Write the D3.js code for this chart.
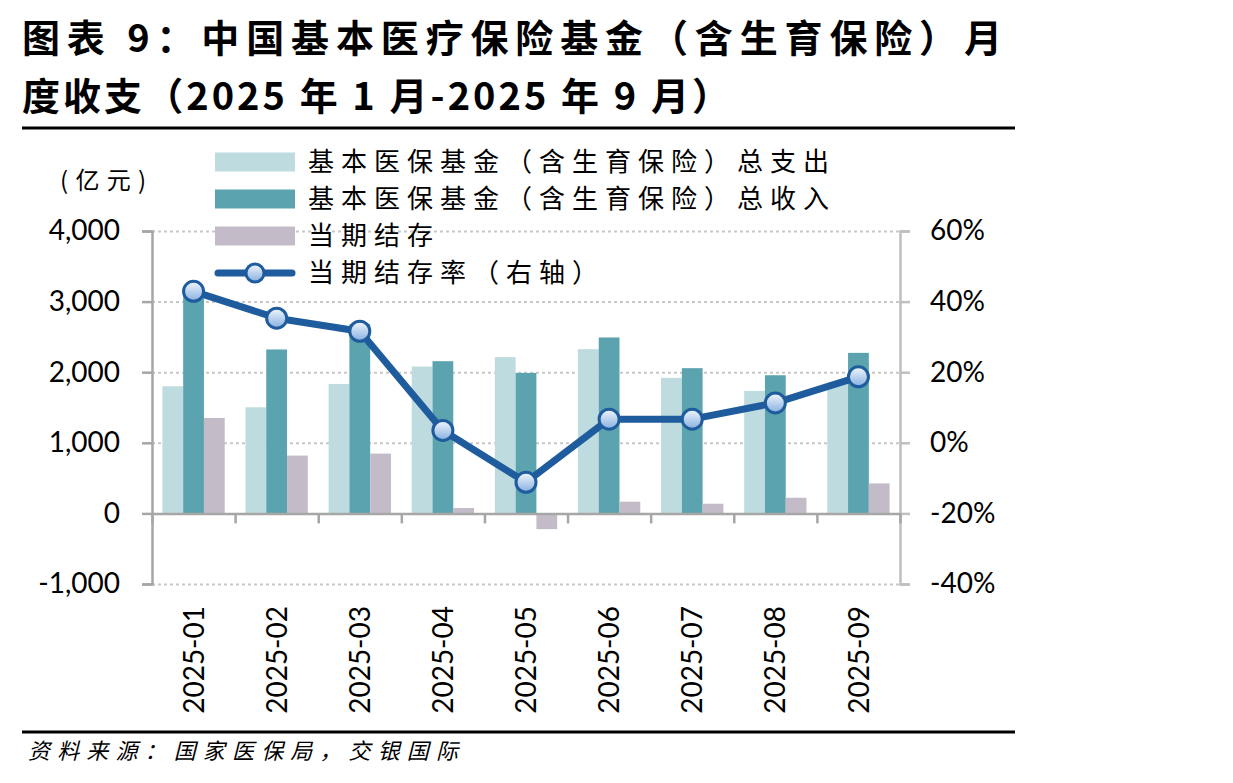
<!DOCTYPE html>
<html>
<head>
<meta charset="utf-8">
<script src="https://cdn.jsdelivr.net/npm/d3@7"></script>
<style>
    body { margin: 0; background: #fff; }
    .chartdiv { width: 1233px; height: 783px; }
    text { fill: #000; }
</style>
</head>
<body>
<div class="chartdiv"></div>
<script>
// data
let months = ['2025-01', '2025-02', '2025-03', '2025-04', '2025-05', '2025-06', '2025-07', '2025-08', '2025-09']
let expense = [1801, 1503, 1834, 2080, 2213, 2326, 1920, 1735, 1849]   // 总支出 (亿元)
let income = [3153, 2322, 2681, 2156, 1990, 2492, 2057, 1957, 2274]    // 总收入 (亿元)
let balance = [1352, 819, 847, 76, -223, 166, 137, 222, 425]           // 当期结存 (亿元)
let rate = [0.429, 0.353, 0.316, 0.035, -0.112, 0.067, 0.067, 0.113, 0.187] // 当期结存率 (右轴)

let leftTicks = [-1000, 0, 1000, 2000, 3000, 4000]
let rightTicks = [-0.4, -0.2, 0, 0.2, 0.4, 0.6]
let seriesNames = ['基本医保基金（含生育保险）总支出', '基本医保基金（含生育保险）总收入', '当期结存', '当期结存率（右轴）']

let colors = ['#BEDBDF', '#5BA3AE', '#C3BCC8']
let lineColor = '#1F5C9E'
let cjk = '"Noto Sans CJK SC", "Noto Sans", sans-serif'
let latin = 'Lato, "Open Sans", sans-serif'

// plot box (note: "top" is reserved on window, so use plot* names)
var W = 1233, H = 783
var plotL = 152, plotR = 900, plotT = 231, plotB = 584

// plain hyphen for negatives, like the original
var loc = d3.formatLocale({ decimal: '.', thousands: ',', grouping: [3], currency: ['', ''], minus: '-' })

var svg = d3.select('.chartdiv').append('svg')
    .attr('width', W)
    .attr('height', H)

// marker gradient
var defs = svg.append('defs')
var grad = defs.append('linearGradient')
    .attr('id', 'markergrad')
    .attr('x1', 0).attr('y1', 0).attr('x2', 0).attr('y2', 1)
grad.append('stop').attr('offset', '0%').attr('stop-color', '#F2F7FD')
grad.append('stop').attr('offset', '100%').attr('stop-color', '#86AFE0')

////// title and rules //////
svg.append('text')
    .attr('x', 22).attr('y', 52)
    .attr('textLength', 980).attr('lengthAdjust', 'spacing')
    .style('font-family', cjk).style('font-weight', 700).style('font-size', '38px')
    .text('图表 9：中国基本医疗保险基金（含生育保险）月')
svg.append('text')
    .attr('x', 22).attr('y', 110)
    .attr('textLength', 708).attr('lengthAdjust', 'spacing')
    .style('font-family', cjk).style('font-weight', 700).style('font-size', '38px')
    .text('度收支（2025 年 1 月-2025 年 9 月）')

svg.append('line')
    .attr('x1', 22).attr('x2', 1015).attr('y1', 128).attr('y2', 128)
    .attr('stroke', '#000').attr('stroke-width', 3)
svg.append('line')
    .attr('x1', 22).attr('x2', 1015).attr('y1', 732).attr('y2', 732)
    .attr('stroke', '#000').attr('stroke-width', 3)

svg.append('text')
    .attr('x', 28).attr('y', 759)
    .attr('textLength', 430).attr('lengthAdjust', 'spacing')
    .style('font-family', cjk).style('font-size', '22px').style('font-style', 'italic')
    .text('资料来源：国家医保局，交银国际')

svg.append('text')
    .attr('x', 60).attr('y', 189)
    .attr('textLength', 86).attr('lengthAdjust', 'spacing')
    .style('font-family', cjk).style('font-size', '24px')
    .text('(亿元)')

////// scales //////
var xScale = d3.scaleBand().domain(months).range([plotL, plotR]).padding(0)
var bw = xScale.bandwidth()
var xInner = d3.scaleBand().domain([0, 1, 2]).range([bw * 0.125, bw * 0.875]).padding(0)
var yL = d3.scaleLinear().domain([-1000, 4000]).range([plotB, plotT])
var yR = d3.scaleLinear().domain([-0.4, 0.6]).range([plotB, plotT])

////// gridlines (dotted) //////
svg.append('g')
    .attr('transform', 'translate(' + plotL + ',0)')
    .call(d3.axisLeft(yL).tickValues(leftTicks.filter(d => d != 0)).tickSize(-(plotR - plotL)).tickFormat(''))
    .call(g => g.select('.domain').remove())
    .call(g => g.selectAll('line')
        .attr('stroke', '#C8C8C8').attr('stroke-width', 2).attr('stroke-dasharray', '3,3'))

////// bars //////
var seriesData = [expense, income, balance]
seriesData.forEach((arr, si) => {
    svg.append('g')
        .selectAll('rect')
        .data(arr)
        .enter()
        .append('rect')
        .attr('x', (d, i) => xScale(months[i]) + xInner(si))
        .attr('y', d => yL(Math.max(d, 0)))
        .attr('width', xInner.bandwidth())
        .attr('height', d => Math.abs(yL(d) - yL(0)))
        .attr('fill', colors[si])
})

////// axes //////
let gl = svg.append('g')
    .attr('transform', 'translate(' + plotL + ',0)')
    .call(d3.axisLeft(yL).tickValues(leftTicks).tickSize(10).tickPadding(22).tickFormat(loc.format(',')))
gl.select('.domain').attr('stroke', '#A6A6A6').attr('stroke-width', 2.5)
gl.selectAll('.tick line').attr('stroke', '#A6A6A6').attr('stroke-width', 2.5)
gl.selectAll('text').style('font-family', latin).style('font-size', '28px').attr('fill', '#000')

let gr = svg.append('g')
    .attr('transform', 'translate(' + plotR + ',0)')
    .call(d3.axisRight(yR).tickValues(rightTicks).tickSize(10).tickPadding(20).tickFormat(loc.format('.0%')))
gr.select('.domain').attr('stroke', '#BFBFBF').attr('stroke-width', 2.5)
gr.selectAll('.tick line').attr('stroke', '#BFBFBF').attr('stroke-width', 2.5)
gr.selectAll('text').style('font-family', latin).style('font-size', '28px').attr('fill', '#000')

// zero line with category boundary ticks
var xEdge = d3.scaleLinear().domain([0, months.length]).range([plotL, plotR])
let gz = svg.append('g')
    .attr('transform', 'translate(0,' + yL(0) + ')')
    .call(d3.axisBottom(xEdge).tickValues(d3.range(0, months.length + 1)).tickSize(10).tickSizeOuter(0).tickFormat(''))
gz.select('.domain').attr('stroke', '#A6A6A6').attr('stroke-width', 2.5)
gz.selectAll('.tick line').attr('stroke', '#A6A6A6').attr('stroke-width', 2.5)

// category labels, rotated, under the plot
let gx = svg.append('g')
    .attr('transform', 'translate(0,' + plotB + ')')
    .call(d3.axisBottom(xScale).tickSize(0).tickFormat(d => d))
gx.select('.domain').remove()
gx.selectAll('text')
    .attr('transform', 'rotate(-90)')
    .attr('x', -22).attr('y', 0).attr('dy', '0.36em')
    .style('text-anchor', 'end')
    .style('font-family', latin).style('font-size', '28px').attr('fill', '#000')

////// rate line //////
var rateline = d3.line()
    .x((d, i) => xScale(months[i]) + bw / 2)
    .y(d => yR(d))

svg.append('path')
    .datum(rate)
    .attr('d', rateline)
    .attr('fill', 'none')
    .attr('stroke', lineColor)
    .attr('stroke-width', 7)
    .attr('stroke-linejoin', 'round')

svg.append('g')
    .selectAll('circle')
    .data(rate)
    .enter()
    .append('circle')
    .attr('cx', (d, i) => xScale(months[i]) + bw / 2)
    .attr('cy', d => yR(d))
    .attr('r', 10)
    .attr('fill', 'url(#markergrad)')
    .attr('stroke', lineColor)
    .attr('stroke-width', 3)

////// legend //////
let lg = svg.append('g').attr('class', 'legend')
seriesNames.forEach((name, i) => {
    let cy = 162 + i * 37
    if (i < 3) {
        lg.append('rect')
            .attr('x', 215).attr('y', cy - 9.5)
            .attr('width', 80).attr('height', 19)
            .attr('fill', colors[i])
    } else {
        lg.append('line')
            .attr('x1', 218).attr('x2', 292).attr('y1', cy).attr('y2', cy)
            .attr('stroke', lineColor).attr('stroke-width', 7).attr('stroke-linecap', 'round')
        lg.append('circle')
            .attr('cx', 255).attr('cy', cy).attr('r', 9)
            .attr('fill', 'url(#markergrad)')
            .attr('stroke', lineColor).attr('stroke-width', 3)
    }
    lg.append('text')
        .attr('x', 308).attr('y', cy).attr('dy', '0.35em')
        .style('font-family', cjk).style('font-size', '26px').style('letter-spacing', '7px')
        .text(name)
})
</script>
</body>
</html>
